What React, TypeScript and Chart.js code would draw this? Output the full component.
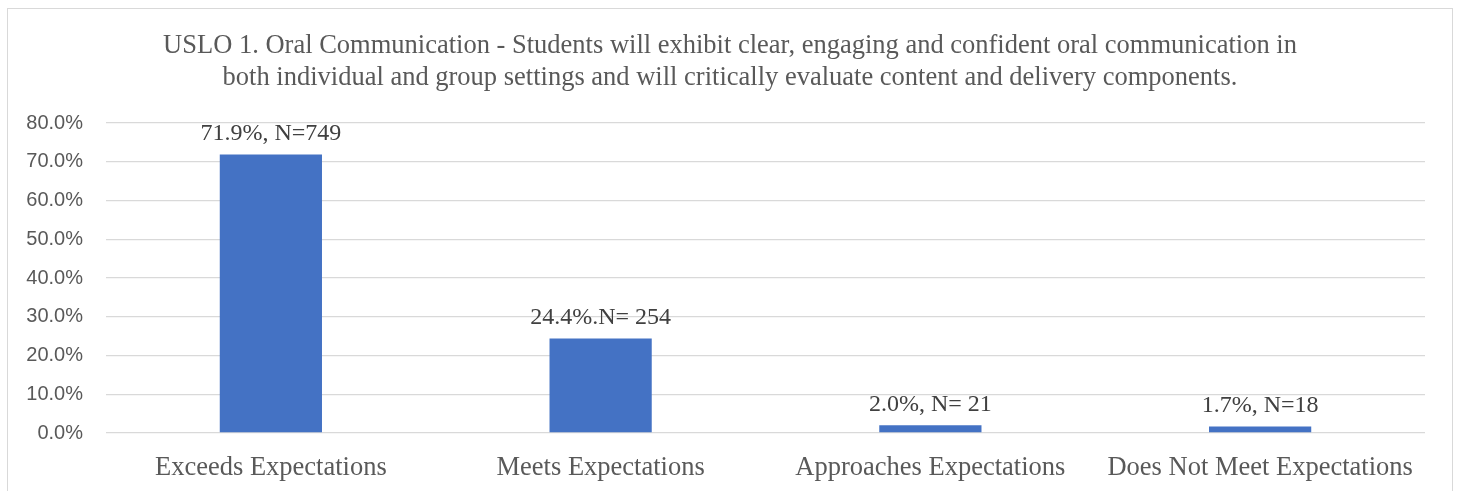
import React, { useEffect, useRef } from "react";
import { Chart, registerables } from "chart.js";

Chart.register(...registerables);

const categories = [
  "Exceeds Expectations",
  "Meets Expectations",
  "Approaches Expectations",
  "Does Not Meet Expectations",
];
const percentValues = [71.9, 24.4, 2.0, 1.7];
const dataLabels = ["71.9%, N=749", "24.4%.N= 254", "2.0%, N= 21", "1.7%, N=18"];
const titleLines = [
  "USLO 1. Oral Communication - Students will exhibit clear, engaging and confident oral communication in",
  "both individual and group settings and will critically evaluate content and delivery components.",
];

const SERIF = "'Liberation Serif', 'Times New Roman', serif";
const SANS = "'Liberation Sans', Arial, sans-serif";

const titlePlugin = {
  id: "centeredTitle",
  afterDraw(chart: any) {
    const ctx = chart.ctx;
    ctx.save();
    ctx.font = `26.5px ${SERIF}`;
    ctx.fillStyle = "#595959";
    ctx.textAlign = "center";
    ctx.textBaseline = "middle";
    titleLines.forEach((line, i) => {
      ctx.fillText(line, chart.width / 2, 37 + i * 32);
    });
    ctx.restore();
  },
};

const barLabelPlugin = {
  id: "barLabels",
  afterDatasetsDraw(chart: any) {
    const ctx = chart.ctx;
    const meta = chart.getDatasetMeta(0);
    ctx.save();
    ctx.font = `24px ${SERIF}`;
    ctx.fillStyle = "#404040";
    ctx.textAlign = "center";
    ctx.textBaseline = "middle";
    meta.data.forEach((bar: any, i: number) => {
      ctx.fillText(dataLabels[i], bar.x, bar.y - 21);
    });
    ctx.restore();
  },
};

export default function App() {
  const canvasRef = useRef<HTMLCanvasElement | null>(null);

  useEffect(() => {
    if (!canvasRef.current) return;
    const chart = new Chart(canvasRef.current, {
      type: "bar",
      data: {
        labels: categories,
        datasets: [
          {
            data: percentValues,
            backgroundColor: "#4472C4",
            categoryPercentage: 1,
            barPercentage: 0.31,
          },
        ],
      },
      options: {
        animation: false,
        responsive: false,
        layout: { padding: { top: 114, right: 27, bottom: 0, left: 0 } },
        plugins: {
          legend: { display: false },
          tooltip: { enabled: false },
          title: { display: false },
        },
        scales: {
          x: {
            grid: { display: false },
            border: { display: false },
            ticks: {
              color: "#595959",
              font: { family: SERIF, size: 26.5 },
              padding: 11,
              maxRotation: 0,
              autoSkip: false,
            },
            afterFit(scale: any) {
              scale.height = 58;
            },
          },
          y: {
            min: 0,
            max: 80,
            grid: { color: "#d9d9d9", lineWidth: 1.3, drawTicks: false },
            border: { display: false },
            ticks: {
              stepSize: 10,
              color: "#595959",
              font: { family: SANS, size: 20 },
              padding: 23,
              callback: (v: any) => Number(v).toFixed(1) + "%",
            },
            afterFit(scale: any) {
              scale.width = 98;
            },
          },
        },
      },
      plugins: [titlePlugin, barLabelPlugin],
    });
    return () => chart.destroy();
  }, []);

  return (
    <div
      style={{
        position: "fixed",
        left: 7,
        top: 8,
        width: 1446,
        height: 495,
        border: "1px solid #d9d9d9",
        boxSizing: "border-box",
        background: "#fff",
      }}
    >
      <canvas ref={canvasRef} width={1444} height={482} style={{ display: "block" }} />
    </div>
  );
}
